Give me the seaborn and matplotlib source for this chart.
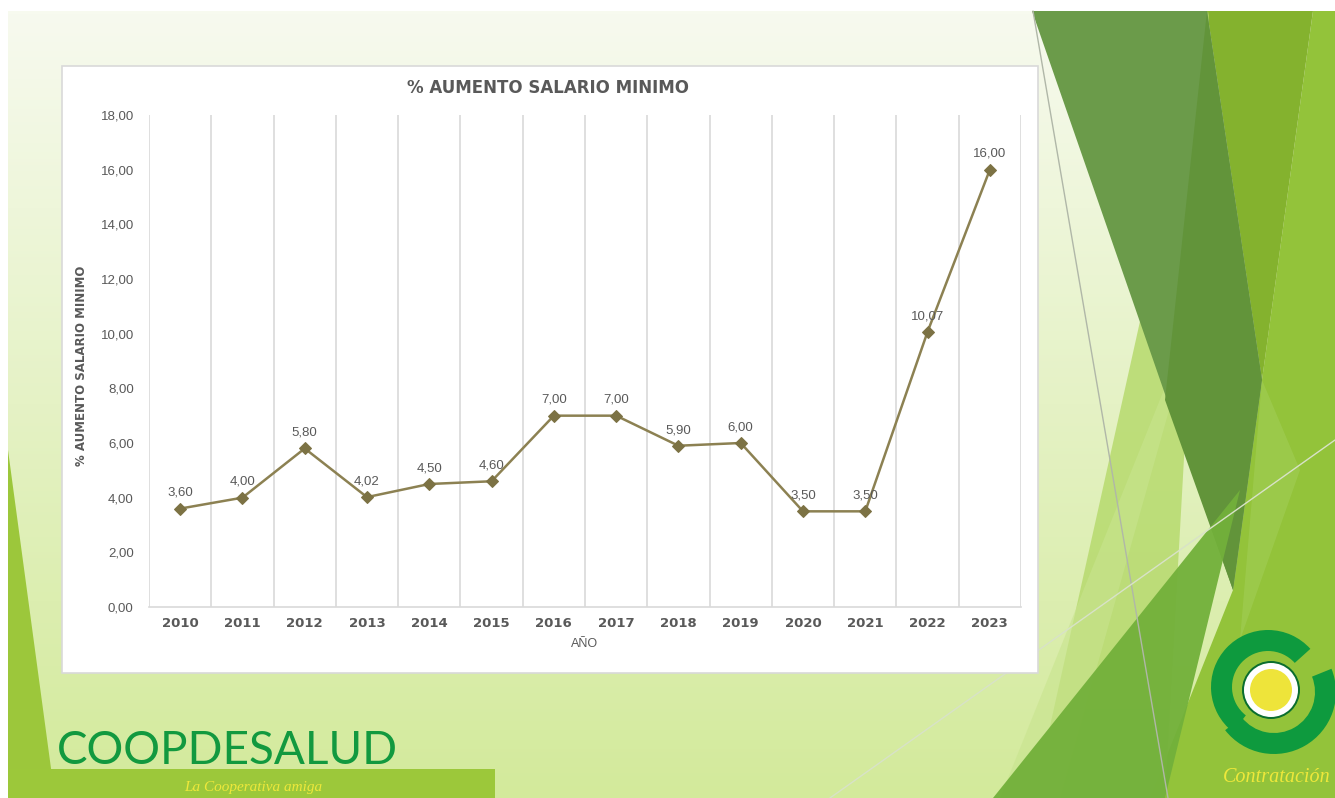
import matplotlib.pyplot as plt
import matplotlib.patches as mpatches
import numpy as np
import seaborn as sns

YEARS = [2010, 2011, 2012, 2013, 2014, 2015, 2016, 2017, 2018, 2019, 2020, 2021, 2022, 2023]
INCREASE = [3.60, 4.00, 5.80, 4.02, 4.50, 4.60, 7.00, 7.00, 5.90, 6.00, 3.50, 3.50, 10.07, 16.00]
Y_TICKS = [0, 2, 4, 6, 8, 10, 12, 14, 16, 18]

TITLE = "% AUMENTO SALARIO MINIMO"
Y_LABEL = "% AUMENTO SALARIO MINIMO"
X_LABEL = "AÑO"

W, H = 1335, 798
TEXT_GRAY = "#595959"
GRID_GRAY = "#d9d9d9"
LINE_COLOR = "#8c8152"
MARKER_COLOR = "#7c7244"
WIDE_BOLD = ["DejaVu Sans"]


def comma(v):
    return f"{v:.2f}".replace(".", ",")


def draw_slide_background(fig):
    """
    Pale green slide with the facet triangles, brand text and logo.
    """
    bg = fig.add_axes([0, 0, 1, 1], zorder=0)
    bg.set_xlim(0, W)
    bg.set_ylim(H, 0)
    bg.axis("off")

    top = np.array([247, 250, 239]) / 255
    bottom = np.array([211, 234, 155]) / 255
    t = np.linspace(0, 1, 256)[:, None, None]
    grad = top * (1 - t) + bottom * t
    bg.imshow(grad, extent=(8, W, H, 11), aspect="auto", zorder=0)

    def poly(points, color, alpha=1.0, z=1):
        bg.add_patch(mpatches.Polygon(points, closed=True, fc=color, ec="none",
                                      alpha=alpha, zorder=z))

    # left wedge and bottom brand bar
    poly([(8, 450), (8, 798), (55, 798)], "#9cc73b")
    poly([(8, 769), (495, 769), (495, 798), (8, 798)], "#9cc83a", z=2)

    # right facets
    poly([(1313, 11), (1335, 11), (1335, 798), (1150, 798), (1233, 590), (1262, 380)], "#93c33a")
    poly([(1207, 11), (1313, 11), (1262, 380)], "#84b22e")
    poly([(1209, 11), (1034, 798), (1165, 798)], "#b9db72", alpha=0.9)
    poly([(1200, 300), (1000, 798), (1060, 798)], "#c8e48e", alpha=0.6)
    poly([(1032, 11), (1207, 11), (1262, 380), (1233, 590)], "#6b9b4a", z=2)
    poly([(1207, 11), (1262, 380), (1233, 590), (1165, 400)], "#62943a", z=2)
    poly([(1262, 380), (1300, 470), (1240, 640)], "#9ecb4f", alpha=0.8, z=2)
    poly([(993, 798), (1240, 490), (1165, 798)], "#72b03a", alpha=0.95, z=3)
    bg.plot([1033, 1168], [11, 798], color="#b0b7a8", lw=1, zorder=4)
    bg.plot([830, 1335], [798, 440], color="#d8e2c8", lw=1, zorder=4)

    # chart box
    bg.add_patch(mpatches.Rectangle((62, 66), 976, 607, fc="white", ec=GRID_GRAY,
                                    lw=1.2, zorder=5))

    # brand text
    bg.text(57, 751, "COOPDESALUD", color="#12993f", fontsize=33, family="Lato",
            ha="left", va="center", zorder=6)
    bg.text(253, 787, "La Cooperativa amiga", color="#eee83a", fontsize=11,
            family="Liberation Serif", style="italic", ha="center", va="center", zorder=6)

    # logo: two offset arcs forming an S around a yellow disc
    cx, cy = 1271, 690
    logo_green = "#0e9a3e"
    bg.add_patch(mpatches.Wedge((cx - 3, cy - 3), 57, -232, -42, width=21, fc=logo_green,
                                ec="none", zorder=6))
    bg.add_patch(mpatches.Wedge((cx + 3, cy + 2), 62, -22, 142, width=21, fc=logo_green,
                                ec="none", zorder=6))
    bg.add_patch(mpatches.Circle((cx, cy), 29, fc="#0b6e2e", ec="none", zorder=7))
    bg.add_patch(mpatches.Circle((cx, cy), 27, fc="white", ec="none", zorder=7))
    bg.add_patch(mpatches.Circle((cx, cy), 21, fc="#eee43a", ec="none", zorder=7))
    bg.text(1277, 777, "Contratación", color="#eee83a", fontsize=14.5,
            family="Liberation Serif", style="italic", ha="center", va="center", zorder=6)


sns.set_theme(style="white")
plt.rcParams["font.family"] = ["Liberation Sans", "DejaVu Sans"]

fig = plt.figure(figsize=(W / 100, H / 100), dpi=100)
draw_slide_background(fig)

ax = fig.add_axes([149 / W, 1 - 607 / H, (1021 - 149) / W, (607 - 115) / H], zorder=10)
ax.patch.set_alpha(0)

sns.lineplot(x=YEARS, y=INCREASE, ax=ax, color=LINE_COLOR, linewidth=1.8,
             marker="D", markersize=6, markerfacecolor=MARKER_COLOR,
             markeredgecolor=MARKER_COLOR)

for year, value in zip(YEARS, INCREASE):
    ax.annotate(comma(value), (year, value), xytext=(0, 7), textcoords="offset points",
                ha="center", va="bottom", fontsize=9.5, color=TEXT_GRAY)

ax.set_xlim(YEARS[0] - 0.5, YEARS[-1] + 0.5)
ax.set_ylim(Y_TICKS[0], Y_TICKS[-1])
ax.set_xticks(YEARS)
ax.set_xticklabels([str(y) for y in YEARS], fontsize=9.5, fontweight="bold",
                   color=TEXT_GRAY, family=WIDE_BOLD)
ax.set_xticks([y - 0.5 for y in YEARS] + [YEARS[-1] + 0.5], minor=True)
ax.set_yticks(Y_TICKS)
ax.set_yticklabels([comma(v) for v in Y_TICKS], fontsize=9.5, color=TEXT_GRAY)
ax.tick_params(axis="both", which="both", length=0)
ax.tick_params(axis="y", pad=11)
ax.tick_params(axis="x", pad=7)
ax.grid(False)
ax.grid(True, axis="x", which="minor", color=GRID_GRAY, linewidth=1.2)

for side in ["left", "right", "top"]:
    ax.spines[side].set_visible(False)
ax.spines["bottom"].set_color(GRID_GRAY)
ax.spines["bottom"].set_linewidth(1.2)

ax.set_ylabel(Y_LABEL, fontsize=8.5, fontweight="bold", color=TEXT_GRAY, family=WIDE_BOLD)
ax.yaxis.set_label_coords(-0.07, 0.49)
ax.set_xlabel(X_LABEL, fontsize=9, color=TEXT_GRAY)
ax.xaxis.set_label_coords(0.5, -0.063)

fig.text(548 / W, 1 - 88 / H, TITLE, ha="center", va="center", fontsize=12,
         fontweight="bold", color=TEXT_GRAY, family=WIDE_BOLD, zorder=11)

fig.savefig("out.png", dpi=100)
